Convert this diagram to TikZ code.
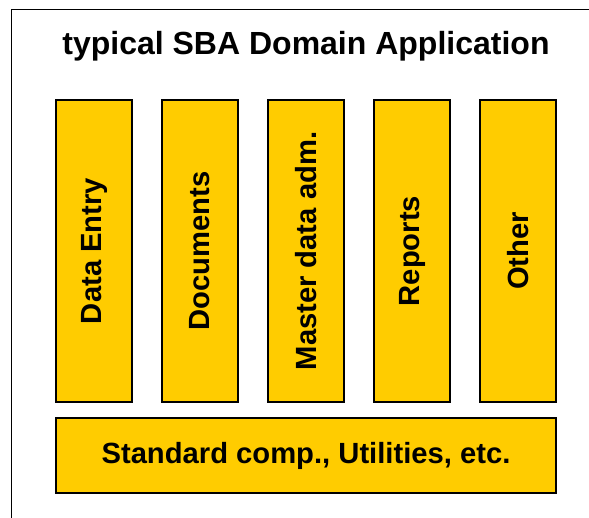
\documentclass[tikz,border=0pt]{standalone}
\usepackage{fontspec}
\setmainfont{Liberation Sans}
\definecolor{blockyellow}{HTML}{FFCC00}
\tikzset{
  module/.style={draw=black, line width=1.4pt, fill=blockyellow, inner sep=0pt},
  modlabel/.style={font=\fontsize{29.2}{31}\selectfont\bfseries, inner sep=0pt},
}
\begin{document}
\begin{tikzpicture}[x=1pt, y=-1pt]
  \useasboundingbox (0,0) rectangle (589,517);
  % application frame (runs off the page at right and bottom)
  \draw[line width=1.6pt] (11.5,600) -- (11.5,9.5) -- (700,9.5);
  \node[font=\fontsize{32}{34}\selectfont\bfseries, inner sep=0pt] (title) at (306,46) {typical SBA Domain Application};
  % vertical modules
  \foreach \i/\txt/\nm in {0/Data Entry/entry, 1/Documents/docs, 2/Master data adm./master, 3/Reports/reports, 4/Other/other} {
    \node[module, minimum width=76pt, minimum height=302pt] (\nm) at (94+106*\i, 251) {};
    \node[modlabel, rotate=90] (\nm-label) at (\nm.center) {\txt};
  }
  % base layer
  \node[module, minimum width=500pt, minimum height=75pt] (base) at (306,455.5) {};
  \node[modlabel] (base-label) at (base.center) {Standard comp., Utilities, etc.};
\end{tikzpicture}
\end{document}
